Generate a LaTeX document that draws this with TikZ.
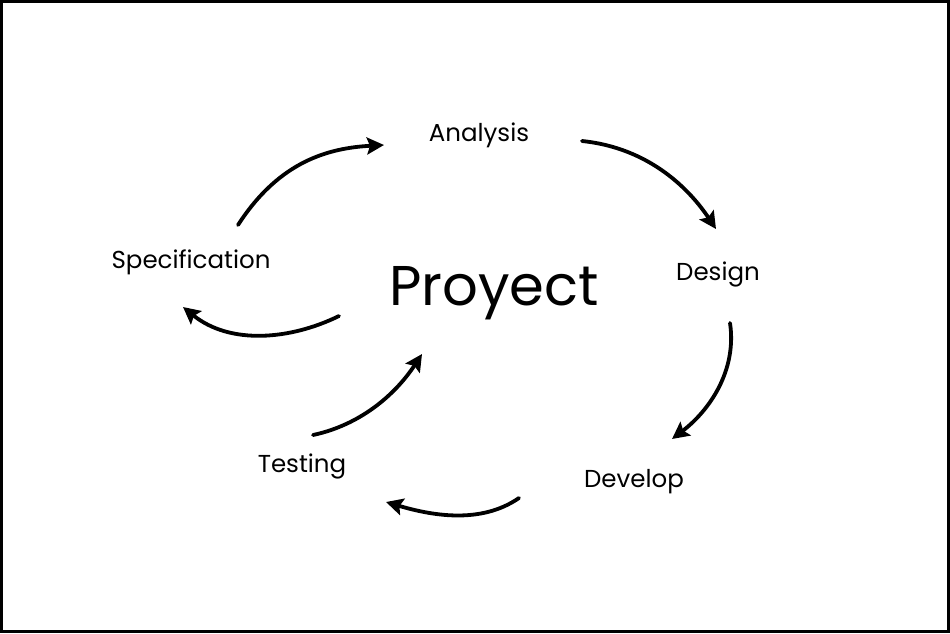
\documentclass[tikz,border=0pt]{standalone}
\usepackage{fontspec}
\setmainfont{Poppins}
\usetikzlibrary{arrows.meta}
\begin{document}
\begin{tikzpicture}[x=1pt,y=-1pt,
  lbl/.style={font=\fontsize{24.5}{28}\selectfont, inner sep=0pt},
  big/.style={font=\fontsize{56}{64}\selectfont, inner sep=0pt},
  flow/.style={line width=3.8pt, line cap=round, -{Stealth[length=17pt,width=17pt,inset=3pt]}}]
\useasboundingbox (0,0) rectangle (950,633);
\draw[line width=2.6pt] (1.3,1.3) rectangle (948.7,631.2);
\node[lbl] (ana) at (479,135) {Analysis};
\node[lbl] (des) at (718,274) {Design};
\node[lbl] (dev) at (634,482) {Develop};
\node[lbl] (tes) at (302,466) {Testing};
\node[lbl] (spe) at (191,262) {Specification};
\node[big] (pro) at (494,293) {Proyect};
\coordinate (a1) at (238,225); \coordinate (a2) at (384,145);
\coordinate (b1) at (582,141); \coordinate (b2) at (716,229);
\coordinate (c1) at (730,323); \coordinate (c2) at (672,439);
\coordinate (d1) at (519,498); \coordinate (d2) at (386,502);
\coordinate (e1) at (313,435); \coordinate (e2) at (422,354);
\coordinate (f1) at (339,316); \coordinate (f2) at (183,307);
\draw[flow] (a1) .. controls (280,160) and (330,148) .. (a2);
\draw[flow] (b1) .. controls (650,148) and (690,190) .. (b2);
\draw[flow] (c1) .. controls (737,370) and (710,410) .. (c2);
\draw[flow] (d1) .. controls (480,525) and (430,515) .. (d2);
\draw[flow] (e1) .. controls (360,425) and (395,395) .. (e2);
\draw[flow] (f1) .. controls (290,340) and (230,345) .. (f2);
\end{tikzpicture}
\end{document}
